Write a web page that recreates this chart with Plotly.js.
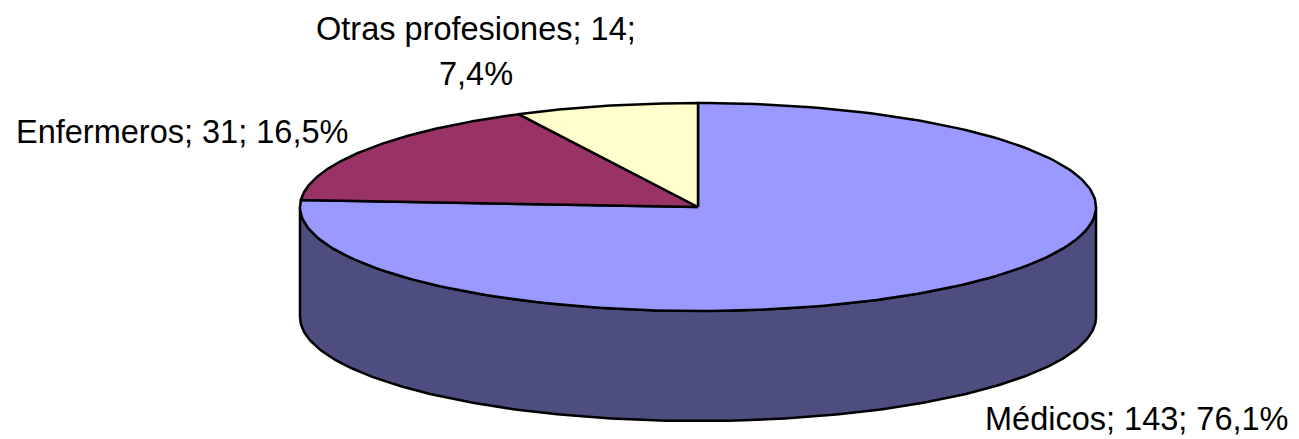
<!DOCTYPE html>
<html><head><meta charset="utf-8">
<script src="https://cdn.plot.ly/plotly-3.0.1.min.js"></script>
<style>html,body{margin:0;padding:0;background:#fff}#c{width:1299px;height:439px}</style>
</head><body><div id="c"></div>
<script>
const categories = ["Médicos", "Enfermeros", "Otras profesiones"];
const values = [143, 31, 14];
const percentLabels = ["76,1%", "16,5%", "7,4%"];
const topColors = ["#9999FF", "#993366", "#FFFFCC"];
const sideColor = "#4D4D80";

// Projection of the tilted disc, in plot units (1 unit = 1 px)
const cx = 698, cy = 207, rx = 398, ry = 104, depth = 110;
const px = a => cx + rx * Math.sin(a);
const py = (a, d) => cy - ry * Math.cos(a) + (d || 0);
const total = values.reduce((s, v) => s + v, 0);
const STEPS = 200;
const traces = [];
const outline = {color: "#000", width: 2.5, shape: "linear"};

function arc(a0, a1, d) {
  const xs = [], ys = [];
  for (let i = 0; i <= STEPS; i++) {
    const a = a0 + (a1 - a0) * i / STEPS;
    xs.push(px(a)); ys.push(py(a, d));
  }
  return [xs, ys];
}

// Cylinder wall: visible front half of the rim
const [tx, ty] = arc(Math.PI / 2, 3 * Math.PI / 2, 0);
const [bx, by] = arc(3 * Math.PI / 2, Math.PI / 2, depth);
traces.push({
  x: tx.concat(bx, [tx[0]]), y: ty.concat(by, [ty[0]]),
  mode: "lines", fill: "toself", fillcolor: sideColor, line: outline, hoverinfo: "skip"
});

// Top face sectors, clockwise from 12 o'clock
let cum = 0;
values.forEach((v, i) => {
  const a0 = 2 * Math.PI * cum / total;
  cum += v;
  const a1 = 2 * Math.PI * cum / total;
  const [ax, ay] = arc(a0, a1, 0);
  traces.push({
    x: [cx].concat(ax, [cx]), y: [cy].concat(ay, [cy]),
    name: categories[i], mode: "lines", fill: "toself",
    fillcolor: topColors[i], line: outline, hoverinfo: "skip"
  });
});

const font = {family: "Liberation Sans, Arial, sans-serif", size: 32.5, color: "#000"};
const label = i => categories[i] + "; " + values[i] + "; " + percentLabels[i];
const note = (text, x, y) => ({text, x, y, xref: "x", yref: "y", showarrow: false,
  xanchor: "center", yanchor: "middle", font});
const annotations = [
  note(label(0), 1137, 419),
  note(label(1), 182, 132),
  note(categories[2] + "; " + values[2] + ";", 476, 29),
  note(percentLabels[2], 476, 74)
];

Plotly.newPlot("c", traces, {
  width: 1299, height: 439,
  margin: {l: 0, r: 0, t: 0, b: 0},
  paper_bgcolor: "#fff", plot_bgcolor: "#fff",
  showlegend: false,
  xaxis: {range: [0, 1299], visible: false, fixedrange: true},
  yaxis: {range: [439, 0], visible: false, fixedrange: true},
  annotations
}, {displayModeBar: false, staticPlot: true});
</script></body></html>
